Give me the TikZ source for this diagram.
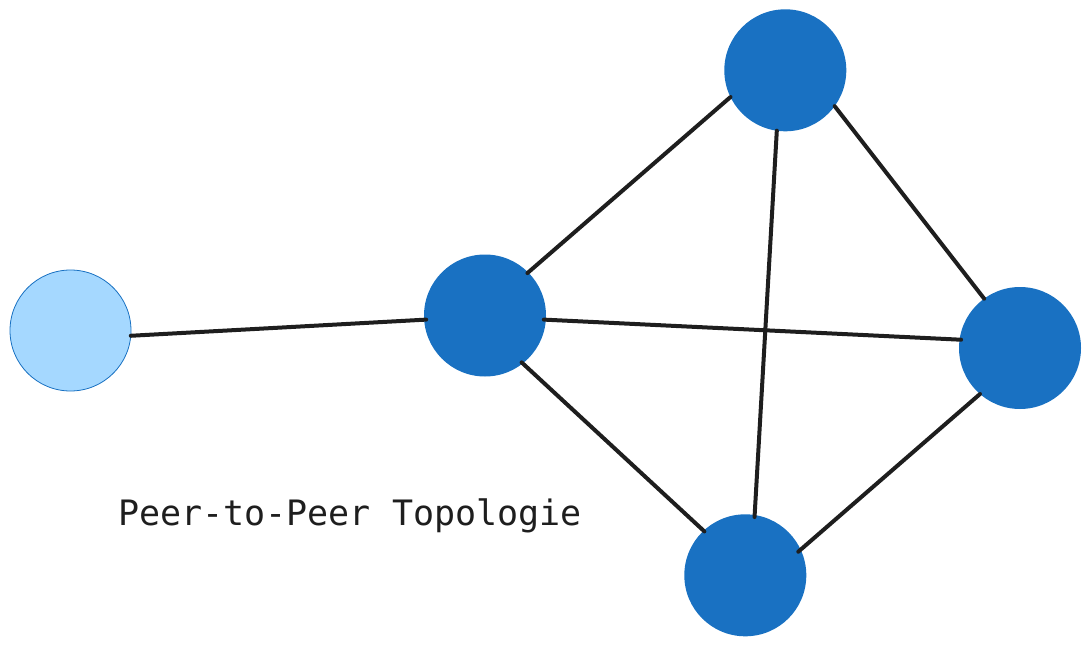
\documentclass[tikz,border=0pt]{standalone}
\usepackage{fontspec}
\usetikzlibrary{calc}
\newfontfamily\monofont{DejaVu Sans Mono}
\definecolor{peerblue}{HTML}{1971C2}
\definecolor{lightpeer}{HTML}{A5D8FF}
\definecolor{inkline}{HTML}{1E1E1E}
\begin{document}
\begin{tikzpicture}[x=1pt,y=-1pt,
  peer/.style={circle,fill=peerblue,draw=none,minimum size=122pt,inner sep=0pt,outer sep=0pt},
  newpeer/.style={circle,fill=lightpeer,draw=peerblue,line width=0.8pt,minimum size=121pt,inner sep=0pt,outer sep=0pt},
  link/.style={draw=inkline,line width=4pt,line cap=round},
  caption/.style={font=\monofont\fontsize{35}{40}\selectfont,text=inkline,inner sep=0pt,anchor=base west}]
\useasboundingbox (0,0) rectangle (1090,645);
\node[newpeer] (L) at (70.5,330.5) {};
\node[peer] (C) at (485,315.5) {};
\node[peer] (T) at (785.3,70.3) {};
\node[peer] (R) at (1020,348) {};
\node[peer] (B) at (745.3,575.3) {};
\draw[link] (L.-5.4) -- ($(C.184.5)!2pt!(C.center)$);
\draw[link] ($(C.45.3)!1pt!(C.center)$) -- (T.206.6);
\draw[link] ($(C.-4.7)!2pt!(C.center)$) -- ($(R.172.6)!1.5pt!(R.center)$);
\draw[link] ($(C.-52.9)!1.5pt!(C.center)$) -- ($(B.133.2)!1pt!(B.center)$);
\draw[link] (T.-98.9) -- ($(B.81.6)!2pt!(B.center)$);
\draw[link] (T.-36.2) -- (R.126.9);
\draw[link] (R.229.7) -- ($(B.24)!3pt!(B.center)$);
\node[caption] (cap) at (118,525) {Peer-to-Peer Topologie};
\end{tikzpicture}
\end{document}
